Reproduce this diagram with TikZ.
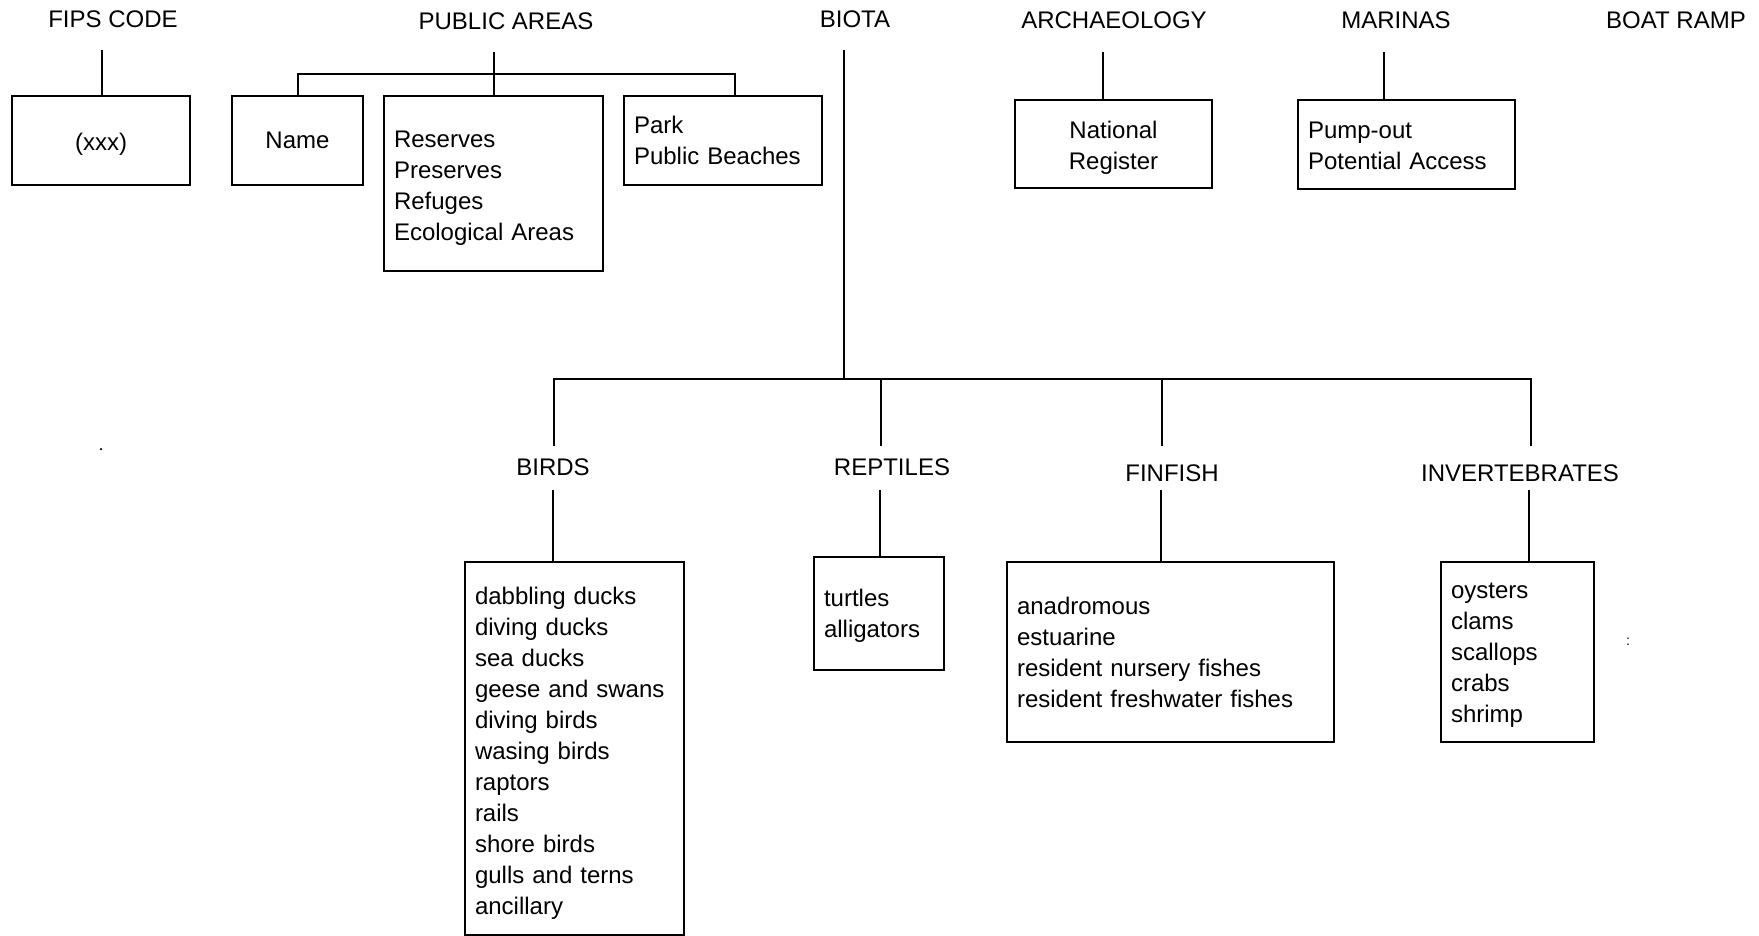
\documentclass[tikz,border=0pt]{standalone}
\usepackage{fontspec}
\setmainfont{Liberation Sans}
\newcommand{\pushdown}[1]{\rule{0pt}{#1pt}}
\begin{document}
\begin{tikzpicture}[x=1pt,y=-1pt,line width=2pt,
  every node/.style={font=\fontsize{24}{31}\selectfont, inner sep=0pt},
  title/.style={anchor=center},
  cbox/.style={draw, line width=2pt, align=center},
  lbox/.style={draw, line width=2pt, align=left, inner xsep=10pt, inner ysep=0pt},
  conn/.style={line width=2pt}]
\useasboundingbox (0,0) rectangle (1759,936);
% titles
\node[title] (tFIPS) at (113,19) {FIPS CODE};
\node[title] (tPA) at (506,21) {PUBLIC AREAS};
\node[title] (tBiota) at (855,19) {BIOTA};
\node[title] (tArch) at (1114,20) {ARCHAEOLOGY};
\node[title] (tMar) at (1396,20) {MARINAS};
\node[title] (tBoat) at (1676,20) {BOAT RAMP};
\node[title] (tBirds) at (553,467) {BIRDS};
\node[title] (tRep) at (892,467) {REPTILES};
\node[title] (tFin) at (1172,473) {FINFISH};
\node[title] (tInv) at (1520,473) {INVERTEBRATES};
% boxes
\node[cbox, minimum width=178pt, minimum height=89pt] (bFIPS) at (101,140.5) {\pushdown{24.5}(xxx)};
\node[cbox, minimum width=131pt, minimum height=89pt] (bName) at (297.5,140.5) {Name};
\node[lbox, text width=199pt, minimum height=175pt] (bRes) at (493.5,183.5) {\pushdown{26.5}Reserves\\Preserves\\Refuges\\Ecological Areas};
\node[lbox, text width=178pt, minimum height=89pt] (bPark) at (723,140.5) {Park\\Public Beaches};
\node[cbox, minimum width=197pt, minimum height=88pt] (bNR) at (1113.5,144) {\pushdown{24.5}National\\Register};
\node[lbox, text width=197pt, minimum height=89pt] (bMar) at (1406.5,144.5) {\pushdown{18.5}Pump-out\\Potential Access};
\node[lbox, text width=199pt, minimum height=373pt] (bBirds) at (574.5,748.5) {\pushdown{27.5}dabbling ducks\\diving ducks\\sea ducks\\geese and swans\\diving birds\\wasing birds\\raptors\\rails\\shore birds\\gulls and terns\\ancillary};
\node[lbox, text width=110pt, minimum height=113pt] (bRep) at (879,613.5) {\pushdown{21.5}turtles\\alligators};
\node[lbox, text width=307pt, minimum height=180pt] (bFin) at (1170.5,652) {anadromous\\estuarine\\resident nursery fishes\\resident freshwater fishes};
\node[lbox, text width=133pt, minimum height=180pt] (bInv) at (1517.5,652) {\pushdown{21.5}oysters\\clams\\scallops\\crabs\\shrimp};
% small marks
\node (speck) at (1628,642) {\fontsize{14}{14}\selectfont :};
\node[circle, fill, minimum size=2.5pt, inner sep=0pt] (dot) at (101,449) {};
% connector points
\coordinate (cFIPS) at (102,50);
\coordinate (cPA) at (494,52);
\coordinate (brL) at (297,74);
\coordinate (brR) at (735,74);
\coordinate (cB) at (844,50);
\coordinate (hB) at (844,379);
\coordinate (dBirds) at (554,446);
\coordinate (dRep) at (881,446);
\coordinate (dFin) at (1162,446);
\coordinate (dInv) at (1531,446);
\coordinate (uBirds) at (553,490);
\coordinate (uRep) at (880,490);
\coordinate (uFin) at (1161,490);
\coordinate (uInv) at (1529,490);
\coordinate (cAr) at (1103,52);
\coordinate (cMa) at (1384,52);
% connectors
\draw[conn] (cFIPS) -- (cFIPS |- bFIPS.north);
\draw[conn] (cPA) -- (cPA |- bRes.north);
\draw[conn] (bName.north) -- (bName.north |- brL) -- (brR) -- (brR |- bPark.north);
\draw[conn] (cB) -- (hB);
\draw[conn] (dBirds) -- (dBirds |- hB) -- (dInv |- hB) -- (dInv);
\draw[conn] (dRep |- hB) -- (dRep);
\draw[conn] (dFin |- hB) -- (dFin);
\draw[conn] (uBirds) -- (uBirds |- bBirds.north);
\draw[conn] (uRep) -- (uRep |- bRep.north);
\draw[conn] (uFin) -- (uFin |- bFin.north);
\draw[conn] (uInv) -- (uInv |- bInv.north);
\draw[conn] (cAr) -- (cAr |- bNR.north);
\draw[conn] (cMa) -- (cMa |- bMar.north);
\end{tikzpicture}
\end{document}
